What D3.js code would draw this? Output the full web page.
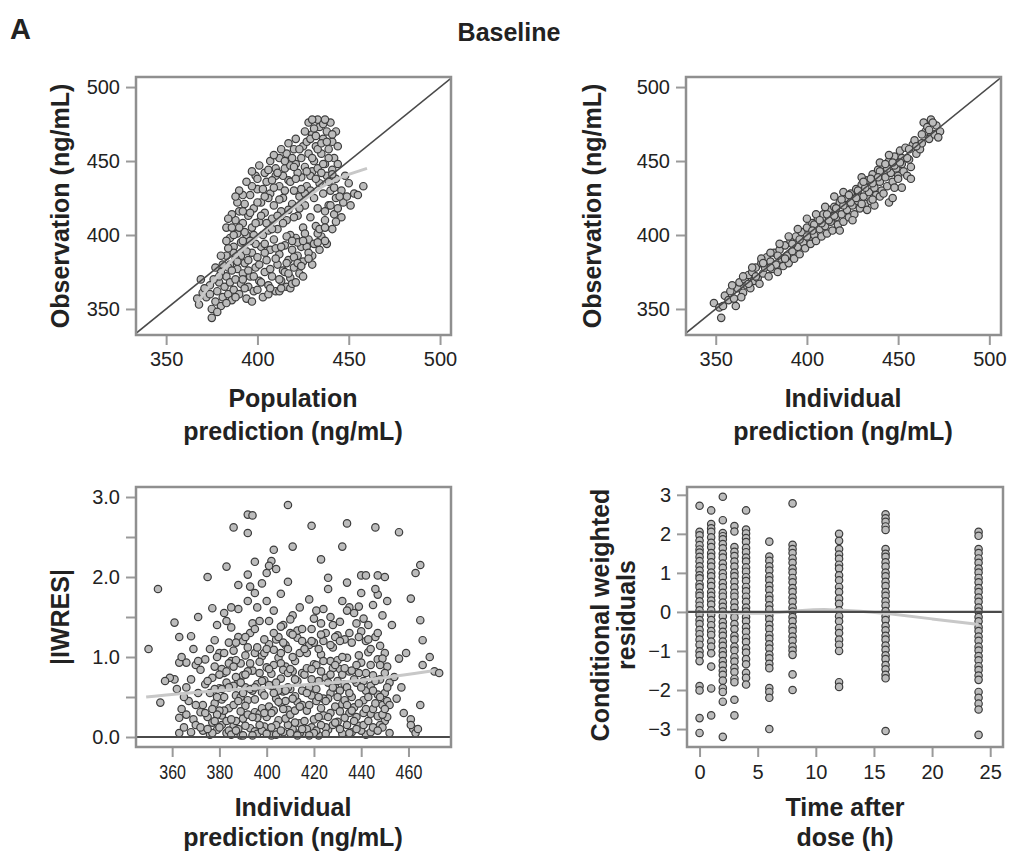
<!DOCTYPE html>
<html><head><meta charset="utf-8">
<script src="https://cdn.jsdelivr.net/npm/d3@7"></script>
<style>body{margin:0;background:#fff}</style>
</head><body><svg id="c" width="1010" height="853"></svg>
<script>
// ---------- DATA ----------
// Panel 1: population prediction vs observation (ng/mL)
const predObs = [
[368,353],[367,357],[370,361],[372,358],[375,344],[375,350],[374,366],[377,355],[378,362],[379,368],[380,352],[381,358],[376,370],[382,365],[383,372],[384,360],[385,368],[380,375],[386,356],[387,363],[388,370],[389,377],[385,380],[390,360],[391,367],
[392,374],[393,381],[394,357],[395,365],[396,372],[397,388],[398,362],[399,378],[400,385],[401,369],[402,392],[403,358],[404,375],[405,383],[406,366],[407,390],[408,372],[409,397],[410,362],[411,380],[412,387],[413,369],[414,376],[415,393],[416,365],[417,383],[418,371],[419,390],[420,378],[421,398],[422,386],[423,374],[424,392],[425,382],[418,364],[412,362],[406,360],[400,363],[395,376],[391,386],[388,384],[384,378],
[383,405],[385,398],[387,392],[388,410],[389,401],[390,416],[391,395],[392,408],[393,421],[394,400],[395,413],[396,427],[397,405],[398,418],[399,394],[400,431],[401,409],[402,422],[403,400],[404,415],[405,436],[406,403],[407,428],[408,411],[409,420],[410,440],[411,404],[412,433],[413,416],[414,425],[415,445],[416,410],[417,437],[418,400],[419,421],[420,430],[421,448],[422,413],[423,426],[424,439],[425,405],[426,420],[427,433],[428,397],[429,412],[430,443],[431,425],[432,406],[433,418],[434,435],[435,399],[436,428],[437,410],[438,440],[439,420],[440,430],[441,404],[442,414],[443,425],[438,394],[434,390],[430,386],[426,401],[422,395],[416,399],[410,391],[404,394],[398,400],[392,396],[387,388],[394,389],
[401,447],[404,442],[407,450],[410,445],[412,452],[414,440],[416,455],[418,447],[420,458],[422,442],[424,452],[425,460],[426,446],[427,463],[428,455],[429,440],[430,468],[431,450],[432,460],[433,445],[434,473],[435,455],[436,465],[433,478],[428,476],[437,448],[438,470],[439,458],[440,476],[441,463],[442,452],[443,470],[444,460],[436,475],[431,472],[421,465],[417,462],[413,458],[409,454],[406,444],
[444,418],[446,430],[447,422],[449,426],[451,420],[453,428],[455,427],[458,433],[450,435],[446,412],[443,438],[448,440],
[420,385],[425,372],[430,380],[415,375],[427,392],[433,401],[437,396],[419,367],[413,364],
[399,440],[397,433],[392,427],[389,422],[386,414],[384,411],
[379,372],[381,380],[383,386],[386,376],[389,382],[392,370],[395,383],[398,372],[401,380],[404,388],[407,377],[410,384],[413,392],[416,381],[419,396],[422,381],[425,396],[428,388],[431,394],[434,404],[437,416],[440,420],[442,432],[439,436],[435,442],[432,438],[429,430],[426,428],[423,418],[420,412],[417,417],[414,408],[411,413],[408,404],[405,408],[402,413],[399,408],[396,396],[393,402],[390,405],[387,400],[384,391],[390,430],[394,436],[397,443],[400,438],[403,431],[406,425],[409,432],[412,424],[415,430],[418,436],[421,438],[424,431],[427,443],[430,452],[433,458],[436,448],[439,452],[441,444],[419,452],[423,458],[426,470],[429,465],[432,467],[435,462],[438,463],[441,468],[437,478],[430,478],[420,446],[415,450],[411,442],[408,437],[404,426],[400,422],[396,415],[392,416],[388,426],[386,405],[383,396],[380,386],[377,378],[374,360],[371,364],[369,370],[378,348],[383,354],[388,358],[393,364],[397,355],[402,368],[407,364],[412,370],[417,374],[421,368],[424,379],[428,384],[433,395],[437,405],[443,409],[445,426],[441,441],[444,448]
];
const predLoess = [[367,354],[375,368],[385,382],[395,394],[405,404],[415,414],[425,423],[435,433],[445,439],[460,445]];

// Panel 2: individual prediction vs observation (ng/mL)
const ipredObs = [
[349,354],[352,351],[353,344],[355,359],[357,356],[358,362],[360,357],[361,352],[362,364],[363,368],[365,361],[366,370],[367,366],[368,373],[369,364],[370,375],[371,369],[372,378],[373,371],[374,367],[375,381],[376,374],[377,378],[378,385],[379,372],[380,382],[381,377],[382,388],[383,380],[384,375],[385,390],[386,384],[387,379],[388,393],[389,386],[390,381],[391,396],[392,389],[393,384],[394,399],[395,392],[396,387],[397,402],[398,395],[399,391],[400,405],[401,398],[402,394],[403,408],[404,400],[405,396],[406,411],[407,404],[408,399],[409,414],[410,406],[411,401],[412,417],[413,409],[414,403],[415,419],[416,412],[417,407],[418,422],[419,414],[420,409],[421,425],[422,417],[423,412],[424,428],[425,420],[426,414],[427,431],[428,423],[429,418],[430,434],[431,426],[432,421],[433,437],[434,429],[435,423],[436,441],[437,432],[438,427],[439,444],[440,436],[441,430],[442,447],[443,439],[444,433],[445,450],[446,442],[447,436],[448,453],[449,445],[450,440],[451,457],[452,448],[453,443],[454,459],[456,451],[457,446],[458,461],[460,455],[462,458],[464,476],[465,470],[466,473],[467,465],[468,478],[470,468],[471,474],[473,470],[463,462],[459,464],
[433,417],[437,420],[445,422],[447,425],[455,440],[457,438],[418,403],[425,410],[440,426],[452,432],
[395,404],[400,411],[405,414],[410,419],[415,426],[420,429],[385,394],[390,399],[430,439],[440,449],[445,454],[380,388],[375,384],[370,378],[365,372],
[354,352],[359,366],[364,358],[368,367],[372,372],[376,381],[380,378],[384,386],[388,384],[392,394],[396,397],[400,399],[404,407],[408,408],[412,410],[416,418],[420,420],[424,422],[428,430],[432,432],[436,435],[440,443],[444,445],[448,447],[452,452],[456,458],[460,460],[463,468],[467,471],[469,476],[472,466],[403,403],[407,410],[411,414],[415,413],[419,424],[423,427],[427,425],[431,436],[435,438],[439,439],[443,448],[447,449],[451,449],[455,452],[442,428],[448,432],[450,438],[436,424],[430,421]
];

// Panel 3: individual prediction vs |IWRES|
const ipredIwres = [
[363,0.05],[365,0.12],[366,0.28],[364,0.35],[368,0.06],[369,0.22],[367,0.45],[370,0.15],[371,0.55],[372,0.31],[373,0.08],[374,0.66],[362,0.60],[365,0.50],[368,0.72],[370,0.90],[372,0.84],[374,0.97],[366,0.93],[369,1.10],[363,0.93],[364,1.00],[373,0.40],[375,0.25],[361,0.72],[359,0.74],[363,0.24],[366,0.62],
[376,0.03],[377,0.18],[378,0.42],[379,0.09],[380,0.61],[381,0.27],[382,0.80],[383,0.05],[384,0.36],[385,0.95],[386,0.14],[387,0.52],[388,0.70],[389,0.02],[390,0.23],[391,1.02],[392,0.46],[393,0.11],[394,0.83],[395,0.31],[376,0.55],[378,0.88],[380,1.05],[382,0.33],[384,1.18],[386,0.64],[388,1.25],[390,0.77],[392,1.12],[394,0.58],[377,0.74],[379,1.00],[381,0.47],[383,0.68],[385,1.37],[387,0.20],[389,0.92],[391,0.39],[393,1.30],[395,0.07],[378,1.21],[380,0.33],[383,1.45],[386,1.08],[388,1.60],[390,1.20],[392,1.70],[394,1.42],[385,1.62],[382,1.55],[379,1.40],[388,1.90],[393,1.88],[395,1.80],[381,0.15],[384,0.08],[387,0.96],[389,0.50],[391,0.62],[395,1.05],
[396,0.04],[397,0.29],[398,0.56],[399,0.13],[400,0.87],[401,0.38],[402,0.02],[403,1.09],[404,0.48],[405,0.21],[406,0.73],[407,0.06],[408,1.15],[409,0.34],[410,0.60],[411,0.10],[412,0.95],[413,0.44],[414,0.17],[415,0.80],[396,0.66],[398,1.01],[400,0.25],[402,0.79],[404,1.22],[406,0.42],[408,0.88],[410,1.30],[412,0.18],[414,1.05],[397,0.94],[399,0.71],[401,1.16],[403,0.33],[405,0.99],[407,0.57],[409,0.15],[411,0.82],[413,1.24],[415,0.40],[397,1.45],[399,1.05],[400,1.70],[401,1.45],[403,1.58],[405,1.25],[407,1.40],[409,1.10],[411,1.52],[413,1.33],[415,1.20],[398,1.92],[400,2.05],[402,2.20],[404,2.10],[396,1.62],[406,1.38],[410,1.47],[414,1.62],[398,0.08],[404,0.03],[408,0.23],[412,0.51],[406,0.92],[410,0.05],[402,0.64],
[416,0.05],[417,0.33],[418,0.62],[419,0.12],[420,0.91],[421,0.45],[422,0.02],[423,1.03],[424,0.27],[425,0.74],[426,0.09],[427,0.55],[428,1.12],[429,0.38],[430,0.19],[431,0.85],[432,0.04],[433,0.66],[434,0.99],[435,0.30],[416,0.78],[418,1.15],[420,0.22],[422,0.70],[424,1.20],[426,0.48],[428,0.86],[430,1.27],[432,0.41],[434,0.15],[417,1.05],[419,1.35],[421,1.58],[423,1.42],[425,1.30],[427,1.50],[429,1.25],[431,1.44],[433,1.22],[435,1.62],[418,1.72],[420,1.48],[424,1.60],[426,1.85],[428,1.40],[432,1.70],[434,1.58],[417,0.10],[421,0.08],[425,0.12],[429,0.62],[433,0.24],[419,0.52],[423,0.36],[427,0.95],[431,0.58],[435,0.82],[422,1.10],[430,0.96],
[436,0.06],[437,0.37],[438,0.68],[439,0.14],[440,0.93],[441,0.46],[442,0.03],[443,1.06],[444,0.29],[445,0.77],[446,0.10],[447,0.53],[448,1.14],[449,0.40],[450,0.20],[451,0.88],[452,0.05],[436,1.18],[438,0.25],[440,1.32],[442,0.58],[444,0.90],[446,1.25],[448,0.72],[450,1.05],[437,1.55],[439,1.63],[441,1.48],[443,1.40],[445,1.65],[447,1.78],[449,1.52],[451,1.70],[436,0.83],[439,1.02],[442,1.20],[445,0.35],[448,0.15],[450,0.55],[452,0.68],[441,0.70],[444,0.06],[447,0.97],[438,1.42],[446,1.85],[449,0.98],[451,0.45],[440,1.80],
[454,0.75],[455,0.48],[457,0.62],[459,1.05],[461,0.22],[462,0.10],[463,0.05],[465,0.40],[466,0.90],[469,1.00],[471,0.82],[473,0.80],[461,0.15],[464,0.10],[456,0.98],[458,0.30],[453,1.40],[461,1.73],[465,1.46],[466,1.21],[463,2.05],[465,2.15],
[350,1.10],[354,1.85],[357,0.70],[355,0.43],[361,1.43],[363,1.25],[368,1.26],[371,1.50],[375,2.00],[377,1.61],[383,2.13],[386,2.62],[392,2.78],[394,2.77],[392,2.55],[392,2.03],[395,2.19],[401,2.14],[403,2.34],[409,2.90],[409,1.94],[406,1.79],[411,2.38],[419,2.64],[423,2.22],[426,1.99],[432,2.38],[434,2.67],[434,1.93],[440,2.02],[442,2.02],[447,2.02],[450,2.00],[446,2.62],[456,2.56],
[370,0.40],[372,0.12],[374,0.30],[375,0.70],[377,0.05],[378,0.60],[379,0.28],[380,0.12],[381,0.85],[382,0.50],[383,0.20],[384,0.62],[385,0.03],[386,0.40],[387,0.75],[388,0.10],[389,0.32],[390,0.55],[391,0.14],[392,0.82],[393,0.60],[394,0.02],[395,0.47],[396,0.24],[397,0.80],[398,0.36],[399,0.52],[400,0.04],[401,0.65],[402,0.30],[403,0.90],[404,0.15],[405,0.58],[406,0.08],[407,0.84],[408,0.45],[409,0.62],[410,0.28],[411,1.00],[412,0.33],[413,0.70],[414,0.05],[415,0.58],[416,0.20],[417,0.86],[418,0.40],[419,0.72],[420,0.05],[421,0.60],[422,0.25],[423,0.82],[424,0.48],[425,0.04],[426,0.68],[427,0.30],[428,0.15],[429,0.90],[430,0.50],[431,0.10],[432,0.78],[433,0.46],[434,0.62],[435,0.05],[436,0.50],[437,0.20],[438,0.90],[439,0.42],[440,0.08],[441,0.30],[442,0.80],[443,0.50],[444,0.64],[445,0.12],[446,0.42],[447,0.26],[448,0.50],[449,0.12],[450,0.80],[451,0.25],[452,0.40],
[371,0.95],[376,1.10],[380,0.78],[384,0.92],[388,0.45],[392,0.28],[396,1.12],[400,1.10],[404,0.68],[408,0.58],[412,0.72],[416,1.10],[420,1.18],[424,0.95],[428,0.62],[432,1.00],[436,0.33],[440,0.62],[444,1.10],[448,0.90],[377,0.35],[381,0.60],[385,0.22],[389,0.68],[393,0.92],[397,0.15],[401,0.85],[405,0.44],[409,0.80],[413,0.02],[417,0.55],[421,0.90],[425,0.45],[429,0.18],[433,0.86],[437,0.72],[441,0.15],[445,0.58],[449,0.28],[378,0.20],[382,1.05],[386,0.88],[390,0.02],[394,0.25],[398,0.70],[402,0.12],[406,1.05],[410,0.85],[414,0.38],[418,0.02],[422,0.50],[426,0.25],[430,0.70],[434,0.40],[438,0.10],[442,0.35],[446,0.70],[450,0.35],
[375,0.10],[379,0.50],[383,0.82],[387,0.08],[391,0.78],[395,0.62],[399,0.30],[403,0.55],[407,0.35],[411,0.48],[415,0.10],[419,0.85],[423,0.15],[427,0.78],[431,0.32],[435,0.55],[439,0.80],[443,0.20],[447,0.08],[451,0.62],[387,1.18],[391,1.25],[395,1.35],[399,1.22],[403,1.30],[407,1.18],[411,1.28],[415,1.35],[419,1.20],[423,1.28],[427,1.15],[431,1.20],[435,1.30],[439,1.25],[443,1.22],[447,1.30]
];
const iwresLoess = [[349,0.50],[370,0.56],[390,0.60],[410,0.64],[430,0.68],[450,0.74],[471,0.83]];

// Panel 4: time after dose (h) vs CWRES, one column of values per sampling time
const cwresTimes = [0,1,2,3,4,6,8,12,16,24];
const cwresValues = [
[2.72,2.05,1.96,1.83,1.71,1.60,1.52,1.41,1.30,1.17,1.06,0.94,0.86,0.71,0.63,0.49,0.41,0.27,0.16,0.04,-0.07,-0.21,-0.31,-0.46,-0.57,-0.71,-0.84,-1.01,-1.11,-1.26,-1.90,-2.01,-2.72,-3.10],
[2.60,2.25,2.14,2.05,1.91,1.77,1.66,1.51,1.41,1.27,1.16,1.01,0.91,0.77,0.66,0.51,0.41,0.29,0.19,0.04,-0.07,-0.21,-0.34,-0.49,-0.59,-0.76,-0.89,-1.06,-1.40,-1.96,-2.65],
[2.95,2.35,2.02,1.94,1.86,1.74,1.63,1.49,1.39,1.24,1.13,0.99,0.89,0.74,0.63,0.49,0.39,0.24,0.13,0.01,-0.11,-0.26,-0.37,-0.51,-0.61,-0.76,-0.87,-1.01,-1.11,-1.26,-1.37,-1.51,-1.61,-1.76,-1.95,-2.05,-2.30,-3.20],
[2.20,2.06,1.66,1.54,1.43,1.29,1.16,1.01,0.91,0.77,0.63,0.49,0.39,0.24,0.11,-0.03,-0.14,-0.31,-0.44,-0.61,-0.71,-0.89,-0.99,-1.16,-1.27,-1.43,-1.54,-1.71,-1.80,-2.25,-2.65],
[2.60,2.11,2.01,1.89,1.79,1.64,1.53,1.39,1.29,1.14,1.03,0.89,0.79,0.64,0.53,0.39,0.26,0.11,0.01,-0.13,-0.24,-0.39,-0.51,-0.66,-0.77,-0.93,-1.04,-1.21,-1.34,-1.56,-1.69,-1.86],
[1.80,1.42,1.31,1.17,1.06,0.91,0.81,0.67,0.56,0.41,0.31,0.17,0.06,-0.09,-0.19,-0.33,-0.44,-0.59,-0.69,-0.83,-0.94,-1.09,-1.19,-1.33,-1.44,-1.95,-2.05,-2.20,-3.00],
[2.78,1.72,1.61,1.51,1.37,1.26,1.11,1.01,0.87,0.76,0.61,0.51,0.37,0.26,0.11,0.01,-0.13,-0.24,-0.39,-0.49,-0.63,-0.74,-0.89,-0.99,-1.10,-1.60,-2.00],
[2.00,1.82,1.61,1.47,1.36,1.21,1.11,0.94,0.81,0.64,0.51,0.34,0.21,0.04,-0.11,-0.24,-0.41,-0.54,-0.71,-0.84,-1.00,-1.80,-1.92],
[2.50,2.40,2.31,2.19,2.10,1.61,1.49,1.41,1.27,1.16,1.01,0.91,0.77,0.66,0.51,0.41,0.27,0.16,0.02,-0.11,-0.21,-0.36,-0.47,-0.61,-0.71,-0.86,-0.97,-1.11,-1.21,-1.36,-1.47,-1.61,-1.70,-3.05],
[2.05,1.95,1.61,1.51,1.37,1.26,1.11,1.01,0.87,0.76,0.61,0.51,0.37,0.26,0.11,0.01,-0.13,-0.24,-0.39,-0.49,-0.63,-0.74,-0.89,-0.99,-1.13,-1.24,-1.39,-1.49,-1.63,-1.74,-2.05,-2.20,-2.35,-2.50,-3.15]
];
const cwresLoess = [[0,0.0],[3,-0.03],[6,-0.05],[9,0.05],[11,0.07],[14,0.02],[16,-0.03],[20,-0.18],[24,-0.32]];

// tick values
const concTicks = [350,400,450,500];
const ipredTicks3 = [360,380,400,420,440,460];
const iwresTicks = [0,0.5,1,1.5,2,2.5,3];
const timeTicks = [0,5,10,15,20,25];
const cwresTicks = [-3,-2,-1,0,1,2,3];

// ---------- DRAWING ----------
const FONT = "'Liberation Sans', Arial, Helvetica, sans-serif";
const svg = d3.select("#c");
const INK = "#222";

function makePanel(id, b, xd, yd) {
  const x = d3.scaleLinear().domain(xd).range([b.l, b.r]);
  const y = d3.scaleLinear().domain(yd).range([b.b, b.t]);
  svg.append("clipPath").attr("id", id).append("rect")
    .attr("x", b.l).attr("y", b.t).attr("width", b.r - b.l).attr("height", b.b - b.t);
  const g = svg.append("g").attr("clip-path", `url(#${id})`);
  return {x, y, g, b};
}
function axes(p, xt, yt, xf, yf, xpad, condensedX) {
  const ax = svg.append("g").attr("transform", `translate(0,${p.b.b})`)
    .call(d3.axisBottom(p.x).tickValues(xt).tickSize(10).tickPadding(xpad).tickFormat(xf));
  const ay = svg.append("g").attr("transform", `translate(${p.b.l},0)`)
    .call(d3.axisLeft(p.y).tickValues(yt).tickSize(10).tickPadding(6).tickFormat(yf));
  [ax, ay].forEach(a => {
    a.attr("font-size", 20).attr("font-family", FONT);
    a.select(".domain").remove();
    a.selectAll(".tick line").attr("stroke", "#9a9a9a").attr("stroke-width", 2);
    a.selectAll(".tick text").attr("fill", INK);
  });
  if (condensedX) ax.selectAll(".tick text").attr("transform", "scale(0.8,1)");
}
function points(p, data) {
  p.g.append("g").selectAll("circle").data(data).join("circle")
    .attr("cx", d => p.x(d[0])).attr("cy", d => p.y(d[1])).attr("r", 3.7)
    .attr("fill", "#bcbcbc").attr("stroke", "#3c3c3c").attr("stroke-width", 1.2);
}
function loess(p, data) {
  p.g.append("path").datum(data)
    .attr("d", d3.line().x(d => p.x(d[0])).y(d => p.y(d[1])).curve(d3.curveBasis))
    .attr("fill", "none").attr("stroke", "#c8c8c8").attr("stroke-width", 3);
}
function refLine(p, pts, w) {
  p.g.append("path").datum(pts)
    .attr("d", d3.line().x(d => p.x(d[0])).y(d => p.y(d[1])))
    .attr("fill", "none").attr("stroke", "#4a4a4a").attr("stroke-width", w);
}
function frame(p) {
  svg.append("rect").attr("x", p.b.l).attr("y", p.b.t)
    .attr("width", p.b.r - p.b.l).attr("height", p.b.b - p.b.t)
    .attr("fill", "none").attr("stroke", "#8f8f8f").attr("stroke-width", 2.5);
}
function label(x, y, lines, rotate, size, lh) {
  const t = svg.append("text").attr("font-family", FONT).attr("font-weight", "bold")
    .attr("font-size", size).attr("fill", INK).attr("text-anchor", "middle")
    .attr("transform", `translate(${x},${y})` + (rotate ? " rotate(-90)" : ""));
  lines.forEach((s, i) => t.append("tspan").attr("x", 0).attr("y", i * lh).text(s));
}

// Panel 1
const p1 = makePanel("c1", {l:136, r:451, t:77, b:335}, [333.5, 506], [332.4, 506.8]);
points(p1, predObs);
loess(p1, predLoess);
refLine(p1, [[333.5,333.5],[506.8,506.8]], 1.6);
axes(p1, concTicks, concTicks, d3.format("d"), d3.format("d"), 7, false);
frame(p1);

// Panel 2
const p2 = makePanel("c2", {l:686, r:1001, t:77, b:335}, [333.7, 506.4], [332.4, 506.8]);
points(p2, ipredObs);
refLine(p2, [[333.7,333.7],[506.8,506.8]], 1.6);
axes(p2, concTicks, concTicks, d3.format("d"), d3.format("d"), 7, false);
frame(p2);

// Panel 3
const p3 = makePanel("c3", {l:136, r:451, t:487, b:747}, [344.7, 478], [-0.125, 3.125]);
points(p3, ipredIwres);
loess(p3, iwresLoess);
refLine(p3, [[344.7,0],[478,0]], 2.2);
axes(p3, ipredTicks3, iwresTicks, d3.format("d"), d => Number.isInteger(d) ? d.toFixed(1) : "", 8, true);
frame(p3);

// Panel 4
const p4 = makePanel("c4", {l:687, r:1003, t:487, b:747}, [-1.08, 26.1], [-3.46, 3.2]);
const cwresPts = cwresTimes.flatMap((t, i) => cwresValues[i].map(v => [t, v]));
points(p4, cwresPts);
loess(p4, cwresLoess);
refLine(p4, [[-1.08,0],[26.1,0]], 2.2);
axes(p4, timeTicks, cwresTicks, d3.format("d"), d3.format("d"), 8, false);
frame(p4);

// Titles and axis labels
svg.append("text").attr("x", 10).attr("y", 39).attr("font-family", FONT).attr("font-weight", "bold")
  .attr("font-size", 29).attr("fill", INK).text("A");
svg.append("text").attr("x", 509).attr("y", 41).attr("font-family", FONT).attr("font-weight", "bold")
  .attr("font-size", 25).attr("fill", INK).attr("text-anchor", "middle").text("Baseline");

label(69, 206, ["Observation (ng/mL)"], true, 25, 0);
label(601, 206, ["Observation (ng/mL)"], true, 25, 0);
label(69, 617, ["|IWRES|"], true, 25, 0);
label(609, 615, ["Conditional weighted", "residuals"], true, 25, 26);

label(293, 407, ["Population", "prediction (ng/mL)"], false, 25, 33);
label(843, 407, ["Individual", "prediction (ng/mL)"], false, 25, 33);
label(293, 816, ["Individual", "prediction (ng/mL)"], false, 25, 30);
label(845, 816, ["Time after", "dose (h)"], false, 25, 30);
</script></body></html>
